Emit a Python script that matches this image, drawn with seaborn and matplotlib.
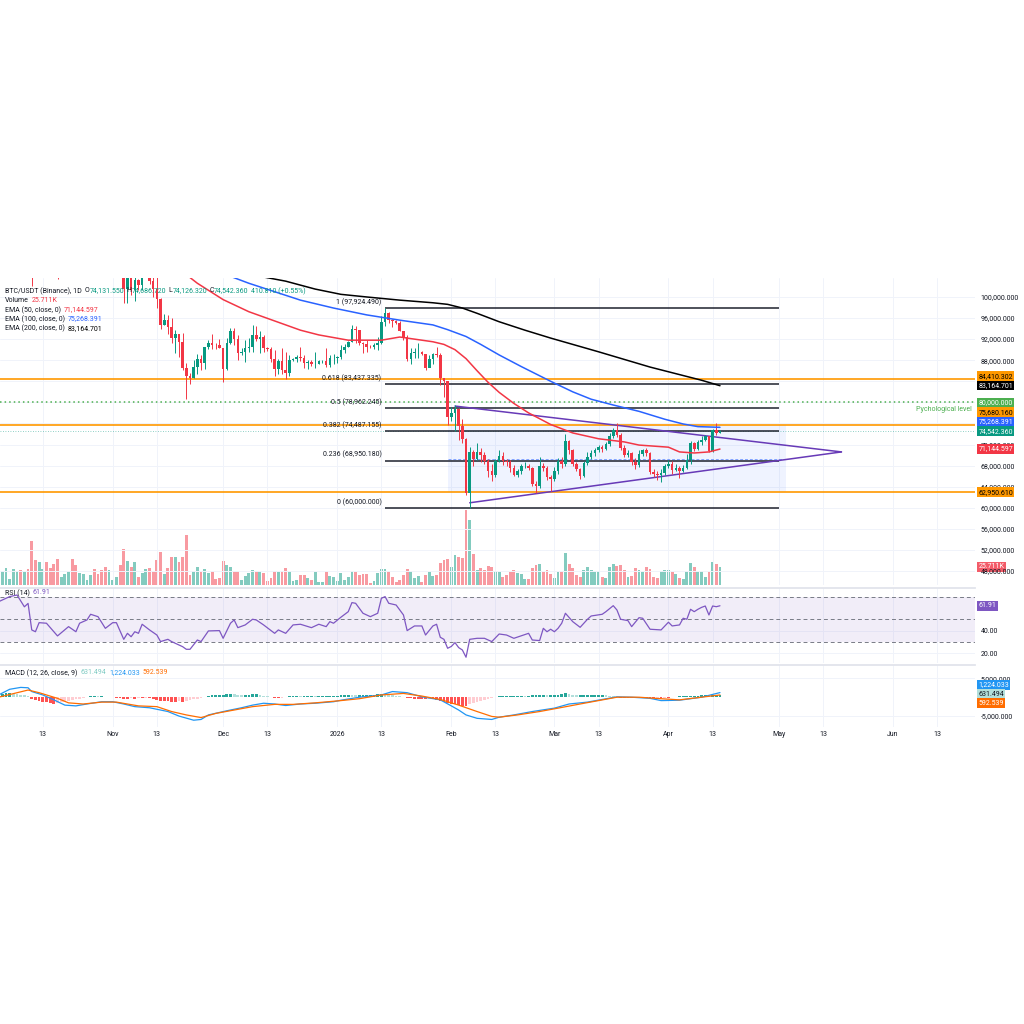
import numpy as np
import pandas as pd
import seaborn as sns
import matplotlib.pyplot as plt
import matplotlib.dates as mdates
import matplotlib.transforms as mtransforms
from matplotlib.ticker import FuncFormatter

sns.set_theme(style="white")
plt.rcParams["font.family"] = ["Roboto", "DejaVu Sans"]

# ---------------- data (prices in thousands USDT, one candle per day) ----------------
first_day = "2025-10-01"
first_open = 114.05

closes = [
    # Oct
    118.6, 120.6, 122.3, 122.4, 123.5, 124.7, 121.4, 123.3, 121.7, 113.2, 110.6, 115.2, 115.3, 113.0, 110.7, 108.2,
    106.4, 107.2, 108.6, 110.5, 108.4, 107.6, 110.0, 111.0, 111.6, 114.5, 114.1, 112.9, 110.0, 108.3, 109.6,
    # Nov
    110.1, 110.6, 106.5, 101.5, 103.9, 101.3, 103.3, 102.3, 104.7, 106.0, 103.0, 101.6, 99.7, 94.6, 95.6, 94.3,
    92.2, 92.9, 91.5, 86.6, 85.1, 84.7, 86.8, 88.3, 87.4, 90.5, 91.3, 90.9, 90.85, 90.4,
    # Dec
    86.3, 91.3, 93.5, 92.1, 89.4, 89.5, 90.4, 90.6, 92.7, 92.0, 92.5, 90.3, 90.2, 88.2, 86.4, 87.8,
    86.2, 85.5, 88.1, 88.3, 88.6, 88.5, 87.4, 87.6, 87.2, 87.3, 87.8, 87.9, 87.1, 88.4, 88.5,
    # Jan
    88.7, 90.0, 90.6, 91.5, 93.9, 93.7, 91.3, 91.0, 90.6, 90.5, 90.8, 91.2, 95.3, 97.0, 95.6, 95.5,
    95.1, 93.6, 92.5, 88.3, 89.4, 89.5, 89.6, 89.2, 86.6, 88.3, 89.2, 89.0, 84.6, 84.1, 77.3,
    # Feb
    78.0, 78.7, 75.6, 73.0, 62.9, 70.5, 69.3, 70.6, 70.1, 68.8, 67.0, 66.2, 68.8, 69.8, 68.9, 68.6,
    67.5, 66.3, 66.9, 67.9, 68.0, 67.6, 64.6, 64.1, 68.0, 67.5, 65.8, 65.4,
    # Mar
    67.0, 68.8, 68.3, 72.6, 70.9, 68.4, 67.3, 66.1, 68.5, 69.7, 70.4, 70.9, 71.6, 71.1, 72.1, 73.6,
    74.7, 73.9, 71.4, 70.1, 70.4, 68.6, 68.1, 70.3, 70.9, 70.4, 66.8, 66.5, 66.2, 66.6, 68.0,
    # Apr
    68.4, 67.2, 67.6, 67.0, 67.5, 69.1, 72.2, 71.2, 72.4, 72.9, 73.6, 70.7, 74.7, 74.13155, 74.54236,
]
highs = [
    118.7, 121.0, 123.9, 122.9, 125.7, 126.2, 125.1, 124.2, 123.8, 122.6, 113.4, 115.8, 116.0, 115.0, 113.6, 111.3,
    109.2, 107.5, 109.4, 111.7, 114.0, 109.0, 111.0, 112.0, 111.9, 115.0, 116.4, 116.1, 113.6, 111.6, 111.2,
    110.6, 111.2, 110.8, 106.6, 104.5, 104.2, 104.1, 103.4, 105.0, 106.7, 107.5, 105.3, 104.0, 99.8, 96.8, 96.6,
    96.0, 93.8, 93.0, 93.2, 87.5, 85.6, 88.1, 89.2, 88.9, 90.6, 91.9, 93.0, 91.2, 92.0,
    90.4, 92.3, 94.2, 94.1, 92.7, 90.3, 91.8, 92.3, 94.6, 94.5, 93.5, 92.8, 90.6, 90.5, 90.0, 88.2,
    90.4, 89.5, 89.0, 88.5, 89.0, 90.6, 88.9, 88.0, 88.1, 89.5, 88.0, 88.0, 90.3, 89.0, 89.2,
    88.8, 90.9, 91.0, 91.7, 94.7, 94.4, 93.5, 91.5, 91.9, 90.8, 91.2, 92.4, 96.3, 97.92449, 97.2, 95.8,
    95.6, 95.4, 93.4, 92.8, 90.4, 90.3, 91.2, 89.7, 89.2, 88.9, 89.4, 90.5, 89.3, 84.5, 84.1,
    79.2, 79.5, 79.0, 76.9, 73.2, 71.5, 71.0, 72.2, 71.3, 70.5, 69.3, 68.3, 69.3, 70.9, 70.5, 69.2,
    69.0, 68.2, 67.4, 68.3, 68.6, 68.3, 67.7, 65.0, 69.6, 68.5, 68.0, 66.2,
    67.8, 69.4, 69.6, 74.0, 72.9, 71.2, 68.7, 67.6, 68.9, 70.5, 71.0, 71.4, 72.0, 72.0, 72.5, 74.1,
    75.2, 76.0, 74.2, 71.9, 70.9, 70.6, 69.5, 71.0, 71.2, 71.3, 70.6, 67.3, 67.0, 67.4, 68.3,
    69.0, 68.9, 68.3, 67.9, 68.1, 70.3, 72.6, 72.5, 72.9, 73.6, 73.9, 73.7, 75.0, 76.0, 74.68672,
]
lows = [
    114.0, 118.4, 119.3, 121.7, 122.2, 123.1, 120.6, 121.1, 119.6, 102.0, 109.6, 109.7, 113.1, 110.0, 110.2, 107.5,
    103.5, 106.3, 106.1, 107.5, 107.4, 106.7, 107.5, 109.7, 110.7, 111.3, 113.8, 112.2, 109.2, 106.3, 108.6,
    109.4, 109.5, 105.3, 98.9, 98.9, 100.3, 99.3, 101.4, 101.3, 104.3, 102.5, 100.0, 98.0, 94.0, 94.6, 93.0,
    91.2, 89.3, 88.6, 86.1, 80.6, 83.5, 84.7, 85.3, 86.1, 86.3, 90.1, 90.2, 90.2, 90.3,
    83.8, 86.2, 91.0, 90.9, 88.1, 88.9, 87.7, 89.6, 89.5, 91.6, 89.3, 89.5, 89.8, 87.6, 85.1, 85.3,
    85.3, 84.5, 85.1, 87.9, 87.6, 87.9, 86.6, 86.4, 86.9, 86.6, 87.2, 87.4, 86.8, 86.8, 87.2,
    87.5, 88.3, 89.3, 90.5, 91.4, 91.3, 90.8, 89.3, 89.5, 90.3, 90.2, 90.0, 91.0, 94.5, 95.0, 94.3,
    94.9, 93.5, 91.9, 87.8, 87.3, 88.4, 88.5, 89.0, 86.1, 86.8, 87.3, 88.7, 83.3, 81.1, 75.7,
    76.5, 74.6, 72.9, 72.2, 62.5, 60.0, 68.0, 69.0, 68.6, 68.3, 65.8, 65.1, 65.8, 68.6, 68.2, 67.9,
    66.7, 66.0, 65.9, 66.5, 67.5, 67.2, 64.2, 62.8, 63.8, 66.9, 65.3, 63.1,
    65.0, 66.5, 67.6, 68.0, 70.3, 68.0, 66.9, 65.5, 65.8, 68.2, 69.2, 69.9, 70.5, 70.6, 70.9, 71.8,
    73.2, 73.4, 70.9, 69.7, 69.6, 68.1, 67.4, 67.8, 69.8, 69.9, 66.4, 65.9, 65.2, 64.9, 66.3,
    67.6, 66.4, 66.9, 65.6, 66.8, 67.3, 68.4, 70.8, 70.9, 71.9, 72.6, 70.5, 70.6, 73.9, 74.12632,
]
volume_k = [
    25.0,
    20.4, 23.9, 8.6, 22.5, 20.0, 21.5, 18.2, 22.5, 62.9, 35.8,
    32.9, 22.9, 32.5, 23.9, 30.0, 37.6, 11.0, 15.7, 19.6, 36.8,
    28.6, 17.6, 15.7, 7.2, 13.9, 22.5, 15.7, 21.5, 26.2, 21.5,
    7.2, 11.9, 28.6, 51.5, 34.7, 26.2, 32.5, 11.9, 16.7, 22.9,
    24.7, 20.4, 35.8, 47.6, 15.7, 23.9, 39.6, 39.6, 32.5, 39.6,
    71.5, 14.3, 20.4, 25.3, 20.0, 22.5, 17.6, 20.0, 8.2, 9.6,
    34.7, 28.6, 26.2, 20.4, 20.4, 7.2, 12.9, 16.7, 21.5, 20.0,
    20.0, 17.6, 6.1, 9.6, 20.0, 19.0, 20.0, 24.7, 20.4, 6.1,
    7.2, 14.3, 13.9, 9.6, 7.2, 18.6, 4.7, 4.7, 20.0, 12.9,
    11.0, 6.1, 16.7, 7.2, 11.0, 20.4, 18.6, 14.3, 16.2, 15.3,
    3.3, 5.7, 16.7, 22.9, 22.9, 20.4, 11.0, 4.7, 7.2, 13.9,
    22.5, 20.4, 9.6, 12.9, 4.7, 14.3, 18.6, 12.9, 14.3, 31.0,
    35.8, 37.6, 26.2, 42.9, 39.6, 39.0, 107.3, 93.0, 44.3, 21.5,
    24, 22, 27, 25, 20, 18, 12,
    14, 19, 21, 17, 15, 9, 8,
    24, 28, 30, 18, 21, 15, 10,
    19, 20, 46, 30, 24, 14, 12,
    22, 25, 21, 18, 20, 12, 10,
    26, 30, 27, 28, 22, 12, 13,
    24, 21, 19, 26, 23, 12, 10,
    20, 21, 22, 18, 16, 10, 9,
    20, 31, 25, 19, 20, 11, 18,
    33, 30, 25.711,
]

# moving averages (day number from first_day, value in thousands)
ema50_days = [0, 15, 30, 45, 54, 61, 68, 82, 87, 95, 104, 109, 118, 121, 124, 127, 130, 133, 136, 140, 144,
              150, 156, 163, 170, 174, 182, 185, 189, 193, 196]
ema50_vals = [113.5, 112.0, 111.0, 107.5, 102.6, 99.5, 97.2, 93.7, 92.8, 91.8, 91.8, 92.4, 91.5, 91.0, 90.0,
              88.3, 86.0, 83.8, 81.9, 79.8, 78.0, 75.8, 74.2, 73.1, 72.5, 71.9, 71.5, 70.6, 70.4, 70.6, 71.144597]
ema100_days = [0, 30, 55, 68, 82, 91, 100, 109, 118, 122, 127, 131, 136, 142, 150, 156, 161, 167, 174,
               181, 186, 190, 196]
ema100_vals = [110.0, 110.5, 106.0, 102.6, 99.4, 97.9, 96.6, 95.6, 94.7, 93.8, 92.5, 91.0, 89.0, 86.8, 84.0,
               82.0, 80.6, 79.5, 78.3, 76.8, 75.9, 75.4, 75.268391]
ema200_days = [0, 40, 78, 86, 93, 100, 109, 118, 122, 126, 130, 136, 143, 150, 163, 177, 191, 196]
ema200_vals = [107.5, 108.0, 103.0, 101.5, 100.5, 100.0, 99.4, 98.9, 98.6, 97.9, 96.9, 95.3, 93.7, 92.2,
               89.6, 86.7, 84.2, 83.164701]

rsi_points = [
    (0, 65.5), (3, 70), (5, 71.4), (7, 61), (8, 64), (9, 40.6), (10, 39), (11, 47), (13, 46.5), (16, 35.3),
    (19, 43.5), (21, 39), (22, 46.5), (24, 49.4), (25, 54.4), (27, 52.3), (29, 42), (31, 47), (32, 47),
    (34, 32.3), (35, 37.6), (36, 34.6), (37, 39), (38, 37.6), (39, 45.6), (41, 40.6), (43, 36.1), (44, 30.3),
    (46, 32.3), (47, 30.3), (50, 25.8), (51, 23.5), (52, 23.5), (54, 31.7), (55, 30.3), (57, 39.7), (60, 40),
    (61, 33.2), (63, 46.5), (64, 49.4), (65, 42.6), (67, 45), (69, 50), (70, 49.4), (72, 45), (75, 37.6),
    (76, 40.6), (78, 37.6), (80, 45), (82, 45.6), (85, 42.6), (87, 45.6), (89, 43.5), (90, 47.9), (91, 46.5),
    (93, 51.8), (95, 56.7), (96, 64.7), (97, 64.1), (99, 55.3), (101, 52.3), (103, 55.3), (104, 68.5),
    (105, 70), (106, 64.1), (108, 62.6), (110, 53.8), (111, 40), (113, 44.1), (115, 44.1), (116, 36.1),
    (118, 44.1), (119, 45.6), (120, 34.1), (121, 32.3), (122, 24.4), (123, 26), (124, 29.4), (125, 25),
    (126, 22.9), (127, 16.5), (128, 32.3), (130, 33.2), (132, 33.2), (134, 30.3), (136, 37), (138, 36.1),
    (140, 33.2), (144, 37.6), (145, 31.7), (147, 31.2), (148, 42), (149, 39), (150, 41.2), (151, 39),
    (152, 42), (153, 46.5), (154, 55.3), (156, 47.9), (158, 42.9), (160, 50), (161, 52.9), (164, 54.4),
    (165, 56.7), (167, 62), (168, 58.2), (169, 50), (171, 48.8), (172, 43.5), (174, 51.4), (175, 50.9),
    (177, 41.2), (180, 40.6), (182, 47.4), (183, 44.1), (185, 45), (186, 50.9), (187, 50), (188, 58.8),
    (189, 56.7), (190, 58.8), (191, 60.5), (192, 61.7), (193, 53.8), (194, 61.7), (195, 61.1), (196, 61.91),
]

macd_points = [
    (0, 0.6), (3, 2.1), (6, 2.6), (8, 2.5), (9, 1.5), (12, 0.6), (15, -0.7), (18, -2.1), (21, -2.3), (24, -1.8),
    (28, -1.2), (31, -1.2), (34, -1.8), (37, -2.5), (41, -2.8), (46, -3.8), (49, -5.0), (53, -6.1), (55, -5.9),
    (57, -4.7), (62, -3.6), (66, -2.8), (69, -2.1), (72, -1.6), (75, -1.8), (78, -2.2), (82, -1.8), (86, -1.6),
    (91, -1.2), (93, -0.8), (98, 0.0), (104, 0.6), (107, 1.5), (111, 1.2), (115, 0.1), (120, -0.7),
    (123, -2.3), (125, -3.4), (127, -4.7), (130, -5.6), (134, -5.9), (136, -5.3), (140, -4.7), (145, -3.8),
    (151, -2.9), (155, -1.8), (160, -1.3), (164, -0.6), (168, 0.1), (172, 0.0), (177, -0.3), (180, -0.9),
    (185, -0.8), (191, 0.0), (196, 1.224033),
]
signal_points = [
    (0, 0.0), (8, 1.9), (11, 1.2), (16, -0.3), (19, -1.5), (23, -1.8), (28, -1.3), (32, -1.3), (38, -2.3),
    (43, -2.5), (47, -3.8), (51, -4.7), (55, -5.4), (59, -4.3), (64, -3.4), (69, -2.5), (75, -1.9), (80, -1.9),
    (86, -1.5), (93, -0.9), (98, -0.4), (104, 0.6), (110, 1.0), (115, 0.3), (120, -0.6), (125, -2.1),
    (130, -3.8), (134, -5.1), (136, -5.3), (141, -4.7), (147, -3.8), (152, -2.9), (158, -1.8), (163, -0.9),
    (168, 0.0), (174, 0.0), (180, -0.4), (185, -0.7), (196, 0.592539),
]
macd_hist = [
    0.8, 0.9, 1.0, 1.0, 0.9, 0.8, 0.7, 0.5,
    0.2, -0.4, -0.8, -1.0, -1.2, -1.4, -1.6, -1.8,
    -1.6, -1.4, -1.2, -1.0, -0.8, -0.6, -0.4, -0.2,
    0.1, 0.3, 0.3, 0.2, 0.2, 0.1, 0.1, 0.1,
    -0.1, -0.3, -0.4, -0.4, -0.3, -0.4, -0.3, -0.3, -0.2, -0.3, -0.5,
    -0.7, -0.9, -1.0, -1.1, -1.2, -1.2, -1.1, -1.2, -1.0,
    -0.8, -0.6, -0.4, -0.2,
    0.1, 0.3, 0.5, 0.6, 0.6, 0.7, 0.8, 0.9, 0.8,
    0.6, 0.5, 0.5, 0.7, 0.8, 0.8, 0.6, 0.4,
    0.2, 0.1, -0.1, -0.2, -0.1, 0.1,
    0.2, 0.3, 0.3, 0.2, 0.2, 0.3, 0.3, 0.2, 0.2, 0.3, 0.3, 0.3, 0.4, 0.4,
    0.5, 0.6, 0.7, 0.6, 0.5, 0.5,
    0.5, 0.6, 0.6, 0.7, 0.8, 0.9,
    0.8, 0.6, 0.5, 0.4, 0.3, 0.1,
    -0.2, -0.3, -0.4, -0.4, -0.5, -0.5, -0.4, -0.5,
    -0.7, -1.0, -1.3, -1.6, -1.7, -1.8, -2.0, -2.2, -2.3,
    -1.9, -1.6, -1.3, -1.0, -0.7, -0.4, -0.1,
    0.1, 0.2, 0.3, 0.3, 0.3, 0.4, 0.4, 0.4, 0.3, 0.4, 0.5,
    0.5, 0.6, 0.6, 0.5, 0.6, 0.7, 0.7, 0.8, 1.0,
    0.8, 0.6, 0.5,
    0.5, 0.5, 0.6, 0.6, 0.6, 0.6, 0.7, 0.6,
    0.4, 0.3, 0.1,
    -0.1, -0.2, -0.3, -0.3, -0.2, -0.2, -0.1, -0.2, -0.3,
    -0.3, -0.2, -0.2, -0.1, -0.1, 0.0, 0.1,
    0.2, 0.2, 0.3, 0.4, 0.4, 0.4, 0.5, 0.5, 0.4, 0.6, 0.6, 0.631494,
]

# drawings
fib_ratios = ["1", "0.618", "0.5", "0.382", "0.236", "0"]
fib_levels = [97924.490, 83437.335, 78962.245, 74487.155, 68950.180, 60000.000]
fib_from, fib_to = "2026-01-14", "2026-05-01"
key_levels = [84410.302, 75680.160, 62950.610]
psych_level = 80000.0
box_from, box_to = "2026-01-31", "2026-05-03"
tri_dates_upper = ["2026-02-02", "2026-05-18"]
tri_vals_upper = [79300, 70600]
tri_dates_lower = ["2026-02-06", "2026-05-18"]
tri_vals_lower = [60950, 70600]

tick_dates = ["2025-10-13", "2025-11-01", "2025-11-13", "2025-12-01", "2025-12-13", "2026-01-01",
              "2026-01-13", "2026-02-01", "2026-02-13", "2026-03-01", "2026-03-13", "2026-04-01",
              "2026-04-13", "2026-05-01", "2026-05-13", "2026-06-01", "2026-06-13"]
tick_labels = ["13", "Nov", "13", "Dec", "13", "2026", "13", "Feb", "13", "Mar", "13", "Apr",
               "13", "May", "13", "Jun", "13"]
view_from, view_to = "2025-10-01 09:00", "2026-06-23 07:00"

# ---------------- prep ----------------
UP, DN = "#089981", "#f23645"
DARK = "#131722"
GRID = "#f0f3fa"

t0 = pd.Timestamp(first_day)
def dnum(days):
    return mdates.date2num(t0 + pd.to_timedelta(np.asarray(days, float), unit="D"))

def tnum(s):
    return mdates.date2num(pd.to_datetime(s))

c = np.array(closes) * 1000
h = np.array(highs) * 1000
l = np.array(lows) * 1000
o = np.array([first_open] + closes[:-1]) * 1000
xd = dnum(np.arange(len(c)))
up = c >= o
ccol = np.where(up, UP, DN)

W, H = 1024, 1024
fig = plt.figure(figsize=(W / 100, H / 100), dpi=100, facecolor="white")

def rect(top, bottom, right=975):
    return [0, 1 - bottom / H, right / W, (bottom - top) / H]

ax_p = fig.add_axes(rect(278, 585))
ax_r = fig.add_axes(rect(588, 663), sharex=ax_p)
ax_m = fig.add_axes(rect(665, 727), sharex=ax_p)

# volume on a twin axis behind the candles
ax_v = ax_p.twinx()
ax_v.bar(xd, volume_k, width=0.78, color=ccol, alpha=0.5, linewidth=0)
ax_v.set_ylim(0, 438)
ax_v.yaxis.set_visible(False)
for s in ax_v.spines.values():
    s.set_visible(False)
ax_v.set_zorder(1)
ax_p.set_zorder(2)
ax_p.patch.set_visible(False)

for ax in (ax_p, ax_r, ax_m):
    for s in ax.spines.values():
        s.set_visible(False)
    ax.yaxis.tick_right()
    ax.yaxis.set_label_position("right")
    ax.tick_params(axis="both", length=0, labelsize=5, labelcolor=DARK, pad=4)
    ax.tick_params(axis="y", labelleft=False, labelright=True)
    ax.set_xticks(tnum(tick_dates))
    ax.grid(True, color=GRID, lw=0.7)
    ax.set_axisbelow(True)
for ax in (ax_p, ax_r):
    ax.tick_params(axis="x", labelbottom=False)
ax_m.set_xticklabels(tick_labels)
ax_m.tick_params(axis="x", pad=3)
for ax in (ax_r, ax_m):
    ax.spines["top"].set_visible(True)
    ax.spines["top"].set_color("#e0e3eb")
ax_p.set_xlim(tnum(view_from), tnum(view_to))

# ---------------- price pane ----------------
ax_p.fill_between([tnum(box_from), tnum(box_to)], key_levels[2], key_levels[1],
                  color="#2962ff", alpha=0.07, lw=0, zorder=1)
ax_p.hlines((key_levels[1] + key_levels[2]) / 2, tnum(box_from), tnum(box_to),
            color="#2962ff", alpha=0.55, lw=0.7, ls=(0, (3, 2)), zorder=1)

for lv in key_levels:
    ax_p.axhline(lv, color="#ff9800", lw=1.2, zorder=2)
ax_p.axhline(psych_level, color="#4caf50", lw=1.1, ls=(0, (1, 2)), zorder=2)
ax_p.axhline(c[-1], color=UP, lw=0.6, ls=(0, (1, 2)), alpha=0.6, zorder=2)

ptrans = mtransforms.blended_transform_factory(ax_p.transAxes, ax_p.transData)
ax_p.text(0.997, psych_level - 600, "Pychological level", transform=ptrans, ha="right", va="top",
          fontsize=5, color="#4caf50")

fx0, fx1 = tnum(fib_from), tnum(fib_to)
for r, lv in zip(fib_ratios, fib_levels):
    ax_p.hlines(lv, fx0, fx1, color="#1e222d", lw=1.1, zorder=2)
    ax_p.text(fx0 - 1.0, lv + 350, f"{r} ({lv:,.3f})", ha="right", va="bottom", fontsize=5, color=DARK)

ax_p.plot(tnum(tri_dates_upper), tri_vals_upper, color="#673ab7", lw=1.1, zorder=3)
ax_p.plot(tnum(tri_dates_lower), tri_vals_lower, color="#673ab7", lw=1.1, zorder=3)

ax_p.vlines(xd, l, h, colors=ccol, lw=0.7, zorder=4)
ax_p.bar(xd, np.maximum(np.abs(c - o), 60), bottom=np.minimum(o, c), width=0.7,
         color=ccol, linewidth=0, zorder=5)

for days, vals, col in ((ema50_days, ema50_vals, "#f23645"),
                        (ema100_days, ema100_vals, "#2962ff"),
                        (ema200_days, ema200_vals, "#000000")):
    sns.lineplot(x=dnum(days), y=np.array(vals) * 1000, ax=ax_p, color=col, lw=1.1,
                 legend=False, zorder=6)

ax_p.set_ylim(45350, 103600)
ax_p.set_yticks(np.arange(48000, 100001, 4000))
ax_p.set_xlabel("")
ax_p.set_ylabel("")

# ---------------- RSI pane ----------------
rsi_days, rsi_vals = zip(*rsi_points)
ax_r.axhspan(30, 70, color="#7e57c2", alpha=0.1, lw=0)
for lv in (70, 50, 30):
    ax_r.axhline(lv, color="#787b86", lw=0.7, ls=(0, (4, 3)))
sns.lineplot(x=dnum(rsi_days), y=rsi_vals, ax=ax_r, color="#7e57c2", lw=0.9, legend=False)
ax_r.set_ylim(11.4, 77.6)
ax_r.set_yticks([20, 40])
ax_r.yaxis.set_major_formatter(FuncFormatter(lambda v, p: f"{v:.2f}"))
ax_r.set_ylabel("")

# ---------------- MACD pane ----------------
hist = np.array(macd_hist) * 1000
prev = np.concatenate([[hist[0]], hist[:-1]])
hcol = np.where(hist >= 0, np.where(hist >= prev, "#26a69a", "#b2dfdb"),
                np.where(hist <= prev, "#ff5252", "#ffcdd2"))
ax_m.bar(xd, hist, width=0.75, color=hcol, linewidth=0)
md, mv = zip(*macd_points)
sd, sv = zip(*signal_points)
sns.lineplot(x=dnum(md), y=np.array(mv) * 1000, ax=ax_m, color="#2196f3", lw=0.9, legend=False)
sns.lineplot(x=dnum(sd), y=np.array(sv) * 1000, ax=ax_m, color="#ff6d00", lw=0.9, legend=False)
ax_m.set_ylim(-7900, 8540)
ax_m.set_yticks([-5000, 5000])
ax_m.yaxis.set_major_formatter(FuncFormatter(lambda v, p: f"{v:,.3f}"))
ax_m.set_ylabel("")

# ---------------- price scale tags ----------------
def tag(ax, y, text, fc, tc):
    tr = mtransforms.blended_transform_factory(ax.transAxes, ax.transData)
    ax.text(1.0035, y, text, transform=tr, ha="left", va="center", fontsize=5, color=tc,
            bbox=dict(boxstyle="square,pad=0.18", fc=fc, ec="none"), clip_on=False, zorder=20)

def stack_up(vals, gap):
    vals = np.asarray(vals, float)
    out = vals.copy()
    last = -np.inf
    for i in np.argsort(vals):
        out[i] = max(vals[i], last + gap)
        last = out[i]
    return out

def stack_center(vals, gap):
    vals = np.asarray(vals, float)
    out = np.empty(len(vals))
    for k, i in enumerate(np.argsort(vals)):
        out[i] = vals.mean() + (k - (len(vals) - 1) / 2) * gap
    return out

price_tags = [
    (84410.302, "#ff9800", "#000000"),
    (83164.701, "#000000", "#ffffff"),
    (80000.000, "#4caf50", "#ffffff"),
    (75680.160, "#ff9800", "#000000"),
    (75268.391, "#2962ff", "#ffffff"),
    (c[-1], UP, "#ffffff"),
    (71144.597, "#f23645", "#ffffff"),
    (62950.610, "#ff9800", "#000000"),
]
TAG_H = 1800
pos = stack_up([t[0] for t in price_tags], TAG_H)
for (v, fc, tc), y in zip(price_tags, pos):
    tag(ax_p, y, f"{v:,.3f}", fc, tc)

# scale labels that sit completely under a tag are not drawn (as on the price scale)
def covered(v, half=660):
    grid = np.linspace(v - half, v + half, 15)
    return all(any(abs(g - p) <= TAG_H / 2 for p in pos) for g in grid)

ax_p.yaxis.set_major_formatter(FuncFormatter(lambda v, p: "" if covered(v) else f"{v:,.3f}"))

tag(ax_v, volume_k[-1], f"{volume_k[-1]:.3f}K", "#f35c69", "#ffffff")
tag(ax_r, rsi_vals[-1], f"{rsi_vals[-1]:.2f}", "#7e57c2", "#ffffff")

macd_tags = [(mv[-1] * 1000, "#2196f3", "#ffffff"),
             (macd_hist[-1] * 1000, "#b2dfdb", DARK),
             (sv[-1] * 1000, "#ff6d00", "#ffffff")]
mpos = stack_center([t[0] for t in macd_tags], 2400)
for (v, fc, tc), y in zip(macd_tags, mpos):
    tag(ax_m, y, f"{v:,.3f}", fc, tc)

# ---------------- legends ----------------
renderer = fig.canvas.get_renderer()

def legend_line(x, y, parts):
    for s, col, gap in parts:
        t = fig.text(x / W, 1 - y / H, s, color=col, fontsize=5, ha="left", va="center", zorder=30)
        x = t.get_window_extent(renderer=renderer).x1 + gap

G = UP
legend_line(5, 291, [("BTC/USDT (Binance), 1D", DARK, 3),
                     ("O", DARK, 0), (f"{o[-1]:,.3f}", G, 2.5),
                     ("H", DARK, 0), (f"{h[-1]:,.3f}", G, 2.5),
                     ("L", DARK, 0), (f"{l[-1]:,.3f}", G, 2.5),
                     ("C", DARK, 0), (f"{c[-1]:,.3f}", G, 2.5),
                     (f"{c[-1] - o[-1]:,.3f} (+{(c[-1] - o[-1]) / o[-1] * 100:.2f}%)", G, 0)])
legend_line(5, 300.5, [("Volume", DARK, 3), (f"{volume_k[-1]:.3f}K", "#f23645", 0)])
legend_line(5, 310, [("EMA (50, close, 0)", DARK, 3), ("71,144.597", "#f23645", 0)])
legend_line(5, 319, [("EMA (100, close, 0)", DARK, 3), ("75,268.391", "#2962ff", 0)])
legend_line(5, 328.3, [("EMA (200, close, 0)", DARK, 3), ("83,164.701", "#000000", 0)])
legend_line(5, 593, [("RSI (14)", DARK, 3), (f"{rsi_vals[-1]:.2f}", "#7e57c2", 0)])
legend_line(5, 673, [("MACD (12, 26, close, 9)", DARK, 3), (f"{macd_hist[-1] * 1000:,.3f}", "#80cbc4", 3),
                     (f"{mv[-1] * 1000:,.3f}", "#2196f3", 3), (f"{sv[-1] * 1000:,.3f}", "#ff6d00", 0)])

fig.savefig("out.png", dpi=100, facecolor="white")
